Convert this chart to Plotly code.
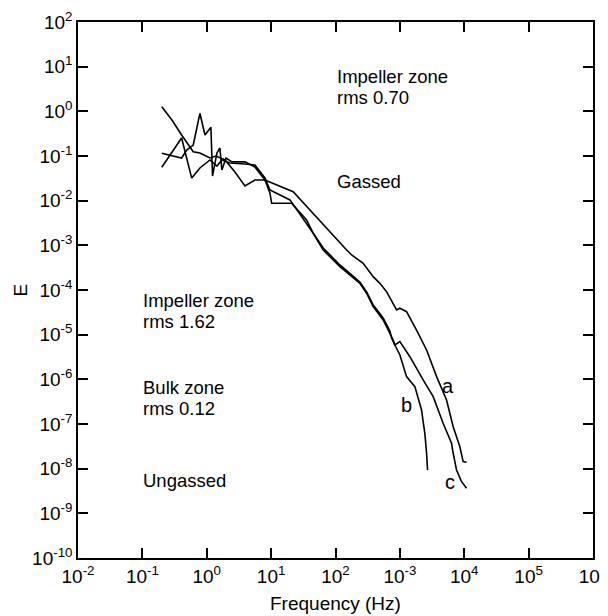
import math
import plotly.graph_objects as go

# ---- data ----
freq_a = [0.200, 0.288, 0.407, 0.617, 0.783, 1.12, 1.39, 1.92, 2.74, 3.92, 5.60, 8.01,
          22.0, 40.0, 68.4, 117, 149, 178, 269, 385, 489, 621, 787, 889, 1000, 1270,
          1815, 2600, 3720, 5310, 6730, 8550, 9620, 10860]
E_a = [1.27, 0.640, 0.295, 0.125, 0.117, 0.0902, 0.100, 0.0815, 0.0438, 0.0213, 0.029, 0.029,
       0.0159, 0.00618, 0.00258, 0.00111, 0.000787, 0.000608, 0.000396, 0.000199, 0.000141,
       9.16e-5, 5.05e-5, 3.57e-5, 3.90e-5, 3.27e-5, 1.27e-5, 4.54e-6, 1.15e-6, 3.45e-7,
       8.71e-8, 3.10e-8, 1.44e-8, 1.39e-8]

freq_b = [0.200, 0.407, 0.488, 0.617, 0.783, 0.938, 1.16, 1.23, 1.44, 1.60, 1.72, 1.99, 2.46,
          3.92, 5.60, 8.01, 9.58, 10.2, 20.8, 35.6, 45.1, 64.4, 81.8, 117, 167, 239, 304, 385,
          550, 700, 787, 836, 1000, 1270, 1710, 2170, 2440, 2600, 2690]
E_b = [0.115, 0.090, 0.136, 0.176, 0.904, 0.295, 0.440, 0.0357, 0.117, 0.151, 0.0486, 0.0902,
       0.074, 0.0746, 0.0568, 0.029, 0.0149, 0.00873, 0.00873, 0.00369, 0.00186, 0.000787,
       0.000557, 0.000333, 0.000217, 0.000141, 8.45e-5, 4.24e-5, 2.13e-5, 1.07e-5, 7.60e-6,
       5.87e-6, 3.51e-6, 1.15e-6, 6.86e-7, 2.06e-7, 6.19e-8, 2.21e-8, 9.35e-9]

freq_c = [0.200, 0.407, 0.584, 0.783, 1.12, 1.44, 1.72, 2.29, 3.92, 5.60, 8.01, 9.58, 19.6,
          35.6, 45.1, 64.4, 81.8, 117, 167, 239, 304, 385, 550, 700, 743, 836, 1000, 1430,
          2300, 3290, 4700, 6350, 6730, 7590, 9080, 10860]
E_c = [0.0558, 0.253, 0.0320, 0.054, 0.0815, 0.0597, 0.0815, 0.0697, 0.0662, 0.063, 0.0322,
       0.0173, 0.0104, 0.00316, 0.00186, 0.000873, 0.000608, 0.000363, 0.000237, 0.000151,
       9.04e-5, 4.62e-5, 2.37e-5, 1.21e-5, 8.43e-6, 5.87e-6, 6.97e-6, 3.21e-6, 9.68e-7,
       4.09e-7, 1.04e-7, 3.70e-8, 2.21e-8, 9.35e-9, 5.12e-9, 3.64e-9]

x_tickvals = [1e-2, 1e-1, 1e0, 1e1, 1e2, 1e3, 1e4, 1e5, 1e6]
x_ticktext = ["10<sup>-2</sup>", "10<sup>-1</sup>", "10<sup>0</sup>", "10<sup>1</sup>",
              "10<sup>2</sup>", "10<sup>-3</sup>", "10<sup>4</sup>", "10<sup>5</sup>",
              "10<sup>6</sup>"]
y_exps = list(range(2, -11, -1))
y_tickvals = [10.0 ** e for e in y_exps]
y_ticktext = ["10<sup>%d</sup>" % e for e in y_exps]

# text labels: (frequency, E, text), one entry per printed line
region_labels = [
    (1.0e2, 10 ** 0.774, "Impeller zone"),
    (1.0e2, 10 ** 0.304, "rms 0.70"),
    (1.0e2, 10 ** -1.56, "Gassed"),
    (1.0e-1, 10 ** -4.229, "Impeller zone"),
    (1.0e-1, 10 ** -4.699, "rms 1.62"),
    (1.0e-1, 10 ** -6.193, "Bulk zone"),
    (1.0e-1, 10 ** -6.664, "rms 0.12"),
    (1.0e-1, 10 ** -8.275, "Ungassed"),
]
curve_labels = [(5660, 10 ** -6.149, "a"), (1285, 10 ** -6.574, "b"), (5970, 10 ** -8.298, "c")]

FONT = "Liberation Sans, Arial, Helvetica, sans-serif"

fig = go.Figure()
for fx, fy, nm in [(freq_a, E_a, "a"), (freq_b, E_b, "b"), (freq_c, E_c, "c")]:
    fig.add_trace(go.Scatter(x=fx, y=fy, mode="lines", name=nm,
                             line=dict(color="black", width=1.6), showlegend=False))

for x, y, t in region_labels:
    fig.add_annotation(x=math.log10(x), y=math.log10(y), xref="x", yref="y", text=t,
                       showarrow=False, xanchor="left", yanchor="middle", align="left",
                       borderpad=0, font=dict(family=FONT, size=18.5, color="black"))

for x, y, t in curve_labels:
    fig.add_annotation(x=math.log10(x), y=math.log10(y), xref="x", yref="y", text=t,
                       showarrow=False, xanchor="center", yanchor="middle",
                       font=dict(family=FONT, size=20, color="black"))

# axis titles
fig.add_annotation(x=-70 / 515, y=0.5, xref="paper", yref="paper", text="E",
                   textangle=-90, showarrow=False, xanchor="left", yanchor="middle",
                   borderpad=0, font=dict(family=FONT, size=19, color="black"))
fig.add_annotation(x=0.5, y=-45 / 536, xref="paper", yref="paper", text="Frequency (Hz)",
                   showarrow=False, xanchor="center", yanchor="middle",
                   font=dict(family=FONT, size=19, color="black"))

axis_common = dict(showgrid=False, zeroline=False, showline=True, linecolor="black",
                   linewidth=1.5, ticks="inside", ticklen=10, tickwidth=1.5,
                   tickcolor="black", mirror="ticks", automargin=False,
                   ticklabeloverflow="allow",
                   tickfont=dict(family=FONT, size=19, color="black"))

fig.update_xaxes(type="log", range=[-2, 6], tickvals=x_tickvals, ticktext=x_ticktext,
                 **axis_common)
fig.update_yaxes(type="log", range=[-10, 2], tickvals=y_tickvals, ticktext=y_ticktext,
                 **axis_common)

# the page body adds an 8px margin, so the plot area is placed relative to that offset
fig.update_layout(width=600, height=608, margin=dict(l=70, r=15, t=14, b=58),
                  plot_bgcolor="white", paper_bgcolor="white",
                  font=dict(family=FONT, color="black"))

fig.write_html("out.html")
